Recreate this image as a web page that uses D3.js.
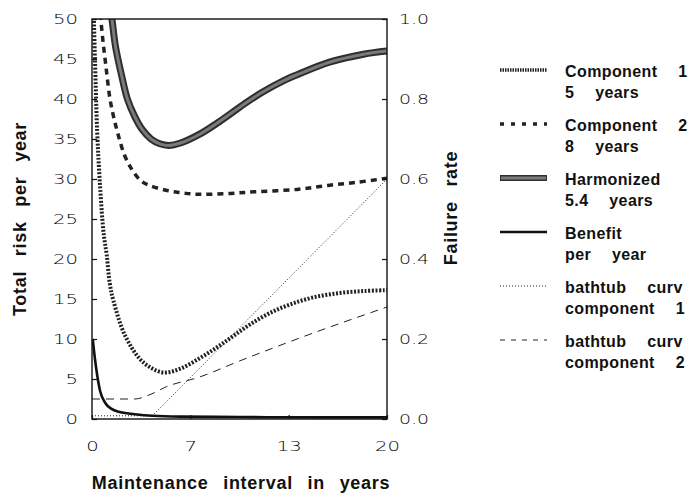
<!DOCTYPE html>
<html>
<head>
<title>Total risk per year vs maintenance interval</title>
<meta charset="utf-8">
<script src="https://d3js.org/d3.v7.min.js"></script>
<style type="text/css">
	body{ margin:0; background:#fff; }
	.tick text{
		font-family: "DejaVu Sans", sans-serif;
		font-size: 14px;
		font-weight: 200;
		fill: #000;
	}
	.ttl{
		font-family: "Liberation Sans", Arial, sans-serif;
		font-weight: bold;
		font-size: 18px;
		fill: #111;
		letter-spacing: 0.7px;
		word-spacing: 9px;
	}
	.leg{
		font-family: "Liberation Sans", Arial, sans-serif;
		font-weight: bold;
		font-size: 16px;
		fill: #111;
		letter-spacing: 0.4px;
		word-spacing: 16px;
	}
</style>
</head>
<body>
<div id="chart"></div>
<script type="text/javascript">
/* total risk per year (left axis) */
var comp1_t = [0.1, 0.2, 0.35, 0.55, 0.8, 1.0, 1.2, 1.45, 2.2, 3.2, 4.0, 4.9, 6.0, 7.3, 8.5, 9.6, 10.7, 12, 13.4, 15, 16.8, 18.5, 20];
var comp1_v = [52, 45, 36, 29, 23, 20.5, 17, 14.8, 10.6, 7.6, 6.4, 5.8, 6.3, 7.6, 9.0, 10.4, 11.8, 13.2, 14.3, 15.2, 15.75, 16.0, 16.1];
var comp2_t = [0.5, 0.7, 0.95, 1.22, 1.5, 1.78, 2.2, 2.7, 3.3, 3.9, 5, 6, 7, 8, 9.4, 11, 13.9, 16, 18, 20];
var comp2_v = [52, 48, 44, 40, 37.5, 35.5, 33, 31.2, 29.8, 29.2, 28.6, 28.3, 28.1, 28.1, 28.2, 28.4, 28.7, 29.2, 29.6, 30.1];
var harm_t = [1.1, 1.35, 1.6, 2.0, 2.4, 2.9, 3.4, 4.0, 4.6, 5.2, 6.0, 7.3, 8.5, 9.5, 10.5, 11.6, 13.0, 14.0, 16.1, 18.4, 20];
var harm_v = [53, 50, 46.5, 43, 40, 37.8, 36.2, 35.0, 34.4, 34.2, 34.5, 35.6, 37.0, 38.3, 39.6, 40.9, 42.3, 43.1, 44.6, 45.6, 46.0];
var benefit_t = [0.05, 0.2, 0.35, 0.55, 0.9, 1.3, 1.8, 2.9, 4.1, 6, 10, 15, 20];
var benefit_v = [10, 7.5, 5.5, 3.5, 2.0, 1.3, 0.9, 0.6, 0.4, 0.3, 0.25, 0.2, 0.2];
/* failure rate (right axis) */
var tub1_t = [0, 4.1, 20];
var tub1_r = [0.008, 0.008, 0.6];
var tub2_t = [0, 2.9, 4.0, 5, 7.3, 10, 13.9, 20];
var tub2_r = [0.05, 0.05, 0.062, 0.08, 0.105, 0.145, 0.2, 0.28];
/* ticks */
var x_ticks = [0, 20/3, 40/3, 20];
var y_left_ticks = [0, 5, 10, 15, 20, 25, 30, 35, 40, 45, 50];
var y_right_ticks = [0, 0.2, 0.4, 0.6, 0.8, 1.0];
/* legend */
var legend_line1 = ["Component 1", "Component 2", "Harmonized", "Benefit", "bathtub curv", "bathtub curv"];
var legend_line2 = ["5 years", "8 years", "5.4 years", "per year", "component 1", "component 2"];

var w = 699, h = 501;
var p_left = 92, p_right = 387, p_top = 19, p_bottom = 419;
var svg = d3.select("#chart").append("svg").attr("width", w).attr("height", h);

var x_scale = d3.scaleLinear().domain([0, 20]).range([p_left, p_right]);
var y_left = d3.scaleLinear().domain([0, 50]).range([p_bottom, p_top]);
var y_right = d3.scaleLinear().domain([0, 1]).range([p_bottom, p_top]);

svg.append("clipPath").attr("id", "plot_clip").append("rect")
	.attr("x", p_left).attr("y", p_top).attr("width", p_right - p_left).attr("height", p_bottom - p_top);

/* line styles, same order as legend */
var styles = [
	{w: 4, c: "#222", dash: "2,1.6"},
	{w: 3.5, c: "#222", dash: "6,5"},
	{w: 7, c: "#2e2e2e", dash: null, inner: "#7a7a7a"},
	{w: 2.6, c: "#111", dash: null},
	{w: 1, c: "#222", dash: "1,2"},
	{w: 1, c: "#222", dash: "8,6"}
];

function zip(ts, vs){
	return ts.map(function(t, i){ return [t, vs[i]]; });
}
function draw_line(pts, ys, st, curve){
	var ln = d3.line().curve(curve)
		.x(function(d){ return x_scale(d[0]); })
		.y(function(d){ return ys(d[1]); });
	var g = svg.append("g").attr("clip-path", "url(#plot_clip)");
	g.append("path").attr("d", ln(pts)).attr("fill", "none")
		.attr("stroke", st.c).attr("stroke-width", st.w)
		.attr("stroke-dasharray", st.dash);
	if(st.inner){
		g.append("path").attr("d", ln(pts)).attr("fill", "none")
			.attr("stroke", st.inner).attr("stroke-width", st.w - 4);
	}
}

var smooth = d3.curveCatmullRom.alpha(0.5);
draw_line(zip(tub1_t, tub1_r), y_right, styles[4], d3.curveLinear);
draw_line(zip(tub2_t, tub2_r), y_right, styles[5], d3.curveMonotoneX);
draw_line(zip(benefit_t, benefit_v), y_left, styles[3], d3.curveMonotoneX);
draw_line(zip(comp1_t, comp1_v), y_left, styles[0], smooth);
draw_line(zip(comp2_t, comp2_v), y_left, styles[1], smooth);
draw_line(zip(harm_t, harm_v), y_left, styles[2], smooth);

/* frame */
svg.append("rect").attr("x", p_left).attr("y", p_top).attr("width", p_right - p_left).attr("height", p_bottom - p_top)
	.attr("fill", "none").attr("stroke", "#111").attr("stroke-width", 1.4);

/* stretch the wide tick digits */
function widen(g){
	g.select(".domain").remove();
	g.selectAll(".tick line").attr("stroke", "#111").attr("stroke-width", 1.2);
	g.selectAll(".tick text").each(function(){
		var s = d3.select(this).text();
		var n = s.replace(".", "").length;
		var dots = s.length - n;
		d3.select(this).attr("textLength", n * 12.5 + dots * 5).attr("lengthAdjust", "spacingAndGlyphs");
	});
}

svg.append("g").attr("transform", "translate(" + p_left + ",0)")
	.call(d3.axisLeft(y_left).tickValues(y_left_ticks).tickSize(-5).tickSizeOuter(0).tickPadding(14).tickFormat(d3.format("d")))
	.call(widen);
svg.append("g").attr("transform", "translate(" + p_right + ",0)")
	.call(d3.axisRight(y_right).tickValues(y_right_ticks).tickSize(-5).tickSizeOuter(0).tickPadding(12).tickFormat(d3.format(".1f")))
	.call(widen);
svg.append("g").attr("transform", "translate(0," + p_bottom + ")")
	.call(d3.axisBottom(x_scale).tickValues(x_ticks).tickSize(-4).tickSizeOuter(0).tickPadding(22).tickFormat(d3.format(".0f")))
	.call(widen);

/* axis titles */
svg.append("text").attr("class", "ttl").attr("text-anchor", "middle")
	.attr("transform", "translate(26,219) rotate(-90)").text("Total risk per year");
svg.append("text").attr("class", "ttl").attr("text-anchor", "middle")
	.attr("transform", "translate(457,208) rotate(-90)").text("Failure rate");
svg.append("text").attr("class", "ttl").attr("text-anchor", "middle")
	.attr("x", 241).attr("y", 489).text("Maintenance interval in years");

/* legend */
var leg = svg.append("g");
legend_line1.forEach(function(name, i){
	var y0 = 77 + i * 54;
	var st = styles[i];
	var sw = i < 4 ? Math.min(st.w, 3.5) : 1;
	if(i == 2) sw = 6;
	var dash = i == 0 ? "1.5,1" : (i == 1 ? "4,7" : (i == 5 ? "5,6" : st.dash));
	leg.append("line").attr("x1", 500).attr("x2", 547).attr("y1", y0 - 7).attr("y2", y0 - 7)
		.attr("stroke", st.c).attr("stroke-width", sw).attr("stroke-dasharray", dash);
	if(st.inner){
		leg.append("line").attr("x1", 501).attr("x2", 546).attr("y1", y0 - 7).attr("y2", y0 - 7)
			.attr("stroke", st.inner).attr("stroke-width", 3);
	}
	leg.append("text").attr("class", "leg").attr("x", 565).attr("y", y0).text(name);
	leg.append("text").attr("class", "leg").attr("x", 565).attr("y", y0 + 21).text(legend_line2[i]);
});
</script>
</body>
</html>
